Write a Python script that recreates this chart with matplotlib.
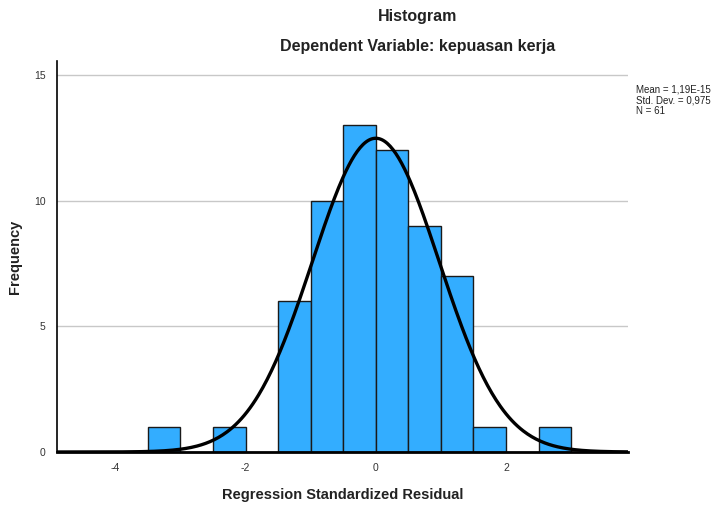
import numpy as np
import matplotlib
matplotlib.use('Agg')
import matplotlib.pyplot as plt

plt.rcParams['font.family'] = ['Liberation Sans', 'DejaVu Sans']
plt.rcParams['axes.unicode_minus'] = False

# Bin edges (left) and counts, bin width 0.5
bin_left = [-3.5, -2.5, -1.5, -1.0, -0.5, 0.0, 0.5, 1.0, 1.5, 2.5]
counts = [1, 1, 6, 10, 13, 12, 9, 7, 1, 1]
bin_width = 0.5

# Summary stats printed on the chart
mean = 1.19e-15
std = 0.975
n = 61

x_ticks = [-4, -2, 0, 2]
y_ticks = [0, 5, 10, 15]

fig = plt.figure(figsize=(7.19, 5.09), dpi=100)
ax = fig.add_axes([0.079, 0.112, 0.794, 0.768])

ax.bar(bin_left, counts, width=bin_width, align='edge', color='#33adff',
       edgecolor='#1a1a1a', linewidth=1.0, zorder=2)

# Normal curve scaled to counts
xs = np.linspace(-4.9, 3.87, 400)
ys = n * bin_width / (std * np.sqrt(2 * np.pi)) * np.exp(-0.5 * ((xs - mean) / std) ** 2)
ax.plot(xs, ys, color='black', linewidth=2.4, zorder=3)

ax.set_xlim(-4.9, 3.87)
ax.set_ylim(0, 15.55)
ax.set_xticks(x_ticks)
ax.set_yticks(y_ticks)
ax.tick_params(length=0, labelsize=7.5, labelcolor='#333333', pad=8)
ax.yaxis.grid(True, color='#c8c8c8', linewidth=1.0, zorder=0)
ax.set_axisbelow(True)
for s in ['top', 'right']:
    ax.spines[s].set_visible(False)
ax.spines['left'].set_linewidth(1.2)
ax.spines['bottom'].set_linewidth(2.0)
ax.spines['bottom'].set_zorder(4)

ax.set_xlabel('Regression Standardized Residual', fontsize=10.5, fontweight='bold',
              color='#222222', labelpad=11)
ax.set_ylabel('Frequency', fontsize=10.5, fontweight='bold', color='#222222', labelpad=9)

fig.text(0.581, 0.968, 'Histogram', ha='center', va='center', fontsize=11.5,
         fontweight='bold', color='#222222')
fig.text(0.581, 0.909, 'Dependent Variable: kepuasan kerja', ha='center', va='center',
         fontsize=11.5, fontweight='bold', color='#222222')

fig.text(0.884, 0.803, 'Mean = 1,19E-15\nStd. Dev. = 0,975\nN = 61', ha='left', va='center',
         fontsize=7, color='#222222', linespacing=1.1)

fig.savefig('out.png', dpi=100)
